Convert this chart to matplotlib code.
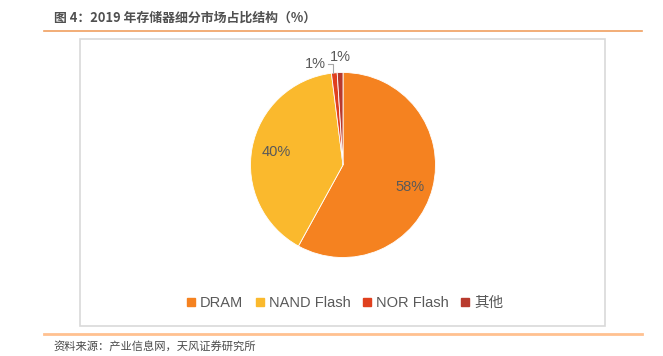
import numpy as np
import matplotlib
matplotlib.use('Agg')
import matplotlib.pyplot as plt
from matplotlib.lines import Line2D
from matplotlib.patches import Rectangle

# data
segments = ['DRAM', 'NAND Flash', 'NOR Flash', '其他']
shares = [58, 40, 1, 1]
seg_colors = ['#F58220', '#FAB92D', '#E0401E', '#B83A2D']

title_text = '图 4：2019 年存储器细分市场占比结构（%）'
source_text = '资料来源：产业信息网，天风证券研究所'

plt.rcParams['font.family'] = ['Liberation Sans', 'Noto Sans CJK SC', 'DejaVu Sans']

W, H = 663, 356
fig = plt.figure(figsize=(W / 100, H / 100), dpi=100)


def fx(px):
    return px / W


def fy(py):
    return 1 - py / H


# title, rules, box
fig.text(fx(54), fy(18), title_text, fontsize=9.3, fontweight='bold', color='#505050',
         va='center', ha='left', family=['Noto Sans CJK SC', 'DejaVu Sans'])
fig.add_artist(Line2D([fx(44), fx(642)], [fy(31), fy(31)], color='#F0A060', lw=1.2))
fig.add_artist(Rectangle((fx(80), fy(326)), fx(605) - fx(80), fy(39) - fy(326),
                         fill=False, edgecolor='#D9D9D9', lw=1.2))
fig.add_artist(Line2D([fx(44), fx(642)], [fy(334), fy(334)], color='#FFC190', lw=2.0))
fig.text(fx(53), fy(347), source_text, fontsize=8.1, color='#4A4A4A', va='center', ha='left',
         family=['Noto Sans CJK SC', 'DejaVu Sans'])

# pie axes: center (343,165), radius 92.5 px
cx, cy, r = 343, 165, 92.5
ax = fig.add_axes([fx(cx - r), fy(cy + r), 2 * r / W, 2 * r / H])
wedges, _ = ax.pie(shares, colors=seg_colors, startangle=90, counterclock=False,
                   wedgeprops=dict(edgecolor='white', linewidth=0.6))
ax.set_xlim(-1, 1)
ax.set_ylim(-1, 1)
ax.axis('off')

lab_color = '#595959'
for w, v, dr in zip(wedges[:2], shares[:2], [0.76, 0.74]):
    ang = np.deg2rad((w.theta1 + w.theta2) / 2 - (4 if v > 50 else 0))
    ax.text(dr * np.cos(ang), dr * np.sin(ang), f'{v}%', fontsize=10.5,
            color=lab_color, ha='center', va='center')

# small slices with outside labels
ang_nor = np.deg2rad((wedges[2].theta1 + wedges[2].theta2) / 2)
px0, py0 = np.cos(ang_nor), np.sin(ang_nor)
ax.plot([px0 - 0.01, px0 - 0.01, px0 - 0.07], [py0, 1.09, 1.09], color='#A6A6A6', lw=0.8,
        clip_on=False)
ax.text(px0 - 0.09, 1.09, f'{shares[2]}%', fontsize=10.5, color=lab_color,
        ha='right', va='center')
ang_oth = np.deg2rad((wedges[3].theta1 + wedges[3].theta2) / 2)
ax.text(np.cos(ang_oth), 1.17, f'{shares[3]}%', fontsize=10.5, color=lab_color,
        ha='center', va='center')

handles = [Line2D([], [], marker='s', linestyle='', markersize=6, color=c) for c in seg_colors]
fig.legend(handles, segments, loc='center', bbox_to_anchor=(fx(345), fy(303)), ncol=4,
           frameon=False, fontsize=10.5, labelcolor=lab_color, handlelength=0.6,
           handletextpad=0.3, columnspacing=0.85)

fig.savefig('out.png', dpi=100)
